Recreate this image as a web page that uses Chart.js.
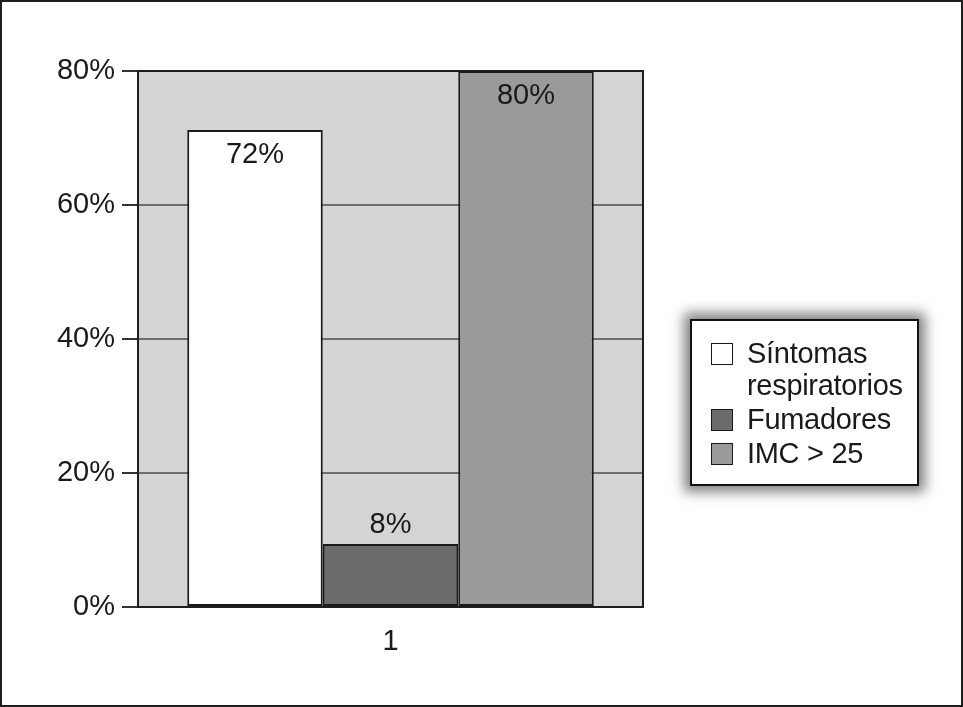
<!DOCTYPE html>
<html>
<head>
<meta charset="utf-8">
<script src="https://cdn.jsdelivr.net/npm/chart.js@4"></script>
<style>
    body { margin: 0; background: #fff; }
    #wrap { position: relative; width: 963px; height: 707px; font-family: "Liberation Sans", Arial, sans-serif; }
    #chart { position: absolute; left: 0; top: 0; }
    #frame { position: absolute; left: 0; top: 0; width: 959px; height: 703px; border: 2px solid #1e1e1e; pointer-events: none; }
    #legend {
        position: absolute; left: 690px; top: 319px;
        border: 2px solid #111; background: #fff;
        box-shadow: 0 0 12px 6px rgba(0, 0, 0, 0.5);
        padding: 16px 0 0 19px; box-sizing: content-box; width: 206px; height: 147px;
    }
    .item { display: flex; align-items: flex-start; font-size: 29px; line-height: 32px; color: #1a1a1a; letter-spacing: -0.3px; }
    .item + .item { margin-top: 2px; }
    .swatch { width: 20px; height: 20px; border: 1.5px solid #1a1a1a; margin: 6px 14px 0 0; flex: none; }
</style>
</head>
<body>
<div id="wrap">
    <canvas id="chart" width="963" height="707"></canvas>
    <div id="legend"></div>
    <div id="frame"></div>
</div>
<script>
const categories = ['1'];
const seriesNames = ['Síntomas respiratorios', 'Fumadores', 'IMC > 25'];
const barValues = [71.2, 9.4, 80];
const barLabels = ['72%', '8%', '80%'];
const barColors = ['#ffffff', '#6b6b6b', '#9a9a9a'];
const yTicks = [0, 20, 40, 60, 80];

const FONT = '"Liberation Sans", Arial, sans-serif';

const plotBackground = {
    id: 'plotBackground',
    beforeDraw(chart) {
        const { ctx, chartArea: a } = chart;
        ctx.save();
        ctx.fillStyle = '#d4d4d4';
        ctx.fillRect(a.left, a.top, a.right - a.left, a.bottom - a.top);
        ctx.restore();
    },
    afterDraw(chart) {
        const { ctx, chartArea: a } = chart;
        ctx.save();
        ctx.strokeStyle = '#1e1e1e';
        ctx.lineWidth = 2;
        ctx.strokeRect(a.left, a.top, a.right - a.left, a.bottom - a.top);
        ctx.restore();
    }
};

const valueLabels = {
    id: 'valueLabels',
    afterDatasetsDraw(chart) {
        const ctx = chart.ctx;
        ctx.save();
        ctx.font = '29px ' + FONT;
        ctx.fillStyle = '#1a1a1a';
        ctx.textAlign = 'center';
        ctx.textBaseline = 'middle';
        chart.data.datasets.forEach((ds, i) => {
            const bar = chart.getDatasetMeta(i).data[0];
            const h = bar.base - bar.y;
            // tall bars get the label inside the top, short ones above it
            const y = h > 120 ? bar.y + 25 : bar.y - 19;
            ctx.fillText(barLabels[i], bar.x, y);
        });
        ctx.restore();
    }
};

const chart = new Chart(document.getElementById('chart'), {
    type: 'bar',
    data: {
        labels: categories,
        datasets: seriesNames.map((name, i) => ({
            label: name,
            data: [barValues[i]],
            backgroundColor: barColors[i],
            borderColor: '#1a1a1a',
            borderWidth: 2,
            borderSkipped: false,
            barPercentage: 1.0,
            categoryPercentage: 0.805
        }))
    },
    options: {
        responsive: false,
        animation: false,
        layout: { padding: { left: 0, top: 71, right: 320, bottom: 40 } },
        plugins: { legend: { display: false }, tooltip: { enabled: false } },
        scales: {
            x: {
                grid: { display: false },
                border: { display: false },
                ticks: { color: '#1a1a1a', padding: 10, font: { family: FONT, size: 29 } },
                afterFit(scale) { scale.height = 60; }
            },
            y: {
                min: 0,
                max: 80,
                afterBuildTicks(scale) { scale.ticks = yTicks.map(v => ({ value: v })); },
                grid: { color: '#6e6e6e', lineWidth: 2, tickLength: 16, tickColor: '#333' },
                border: { display: false },
                ticks: {
                    color: '#1a1a1a',
                    padding: 7,
                    font: { family: FONT, size: 29 },
                    callback: v => v + '%'
                },
                afterFit(scale) { scale.width = 138; }
            }
        }
    },
    plugins: [plotBackground, valueLabels]
});

// legend box drawn as html from the datasets
const legend = document.getElementById('legend');
chart.data.datasets.forEach(ds => {
    const item = document.createElement('div');
    item.className = 'item';
    item.innerHTML = `<span class="swatch" style="background:${ds.backgroundColor}"></span><span>${ds.label}</span>`;
    legend.appendChild(item);
});
</script>
</body>
</html>
